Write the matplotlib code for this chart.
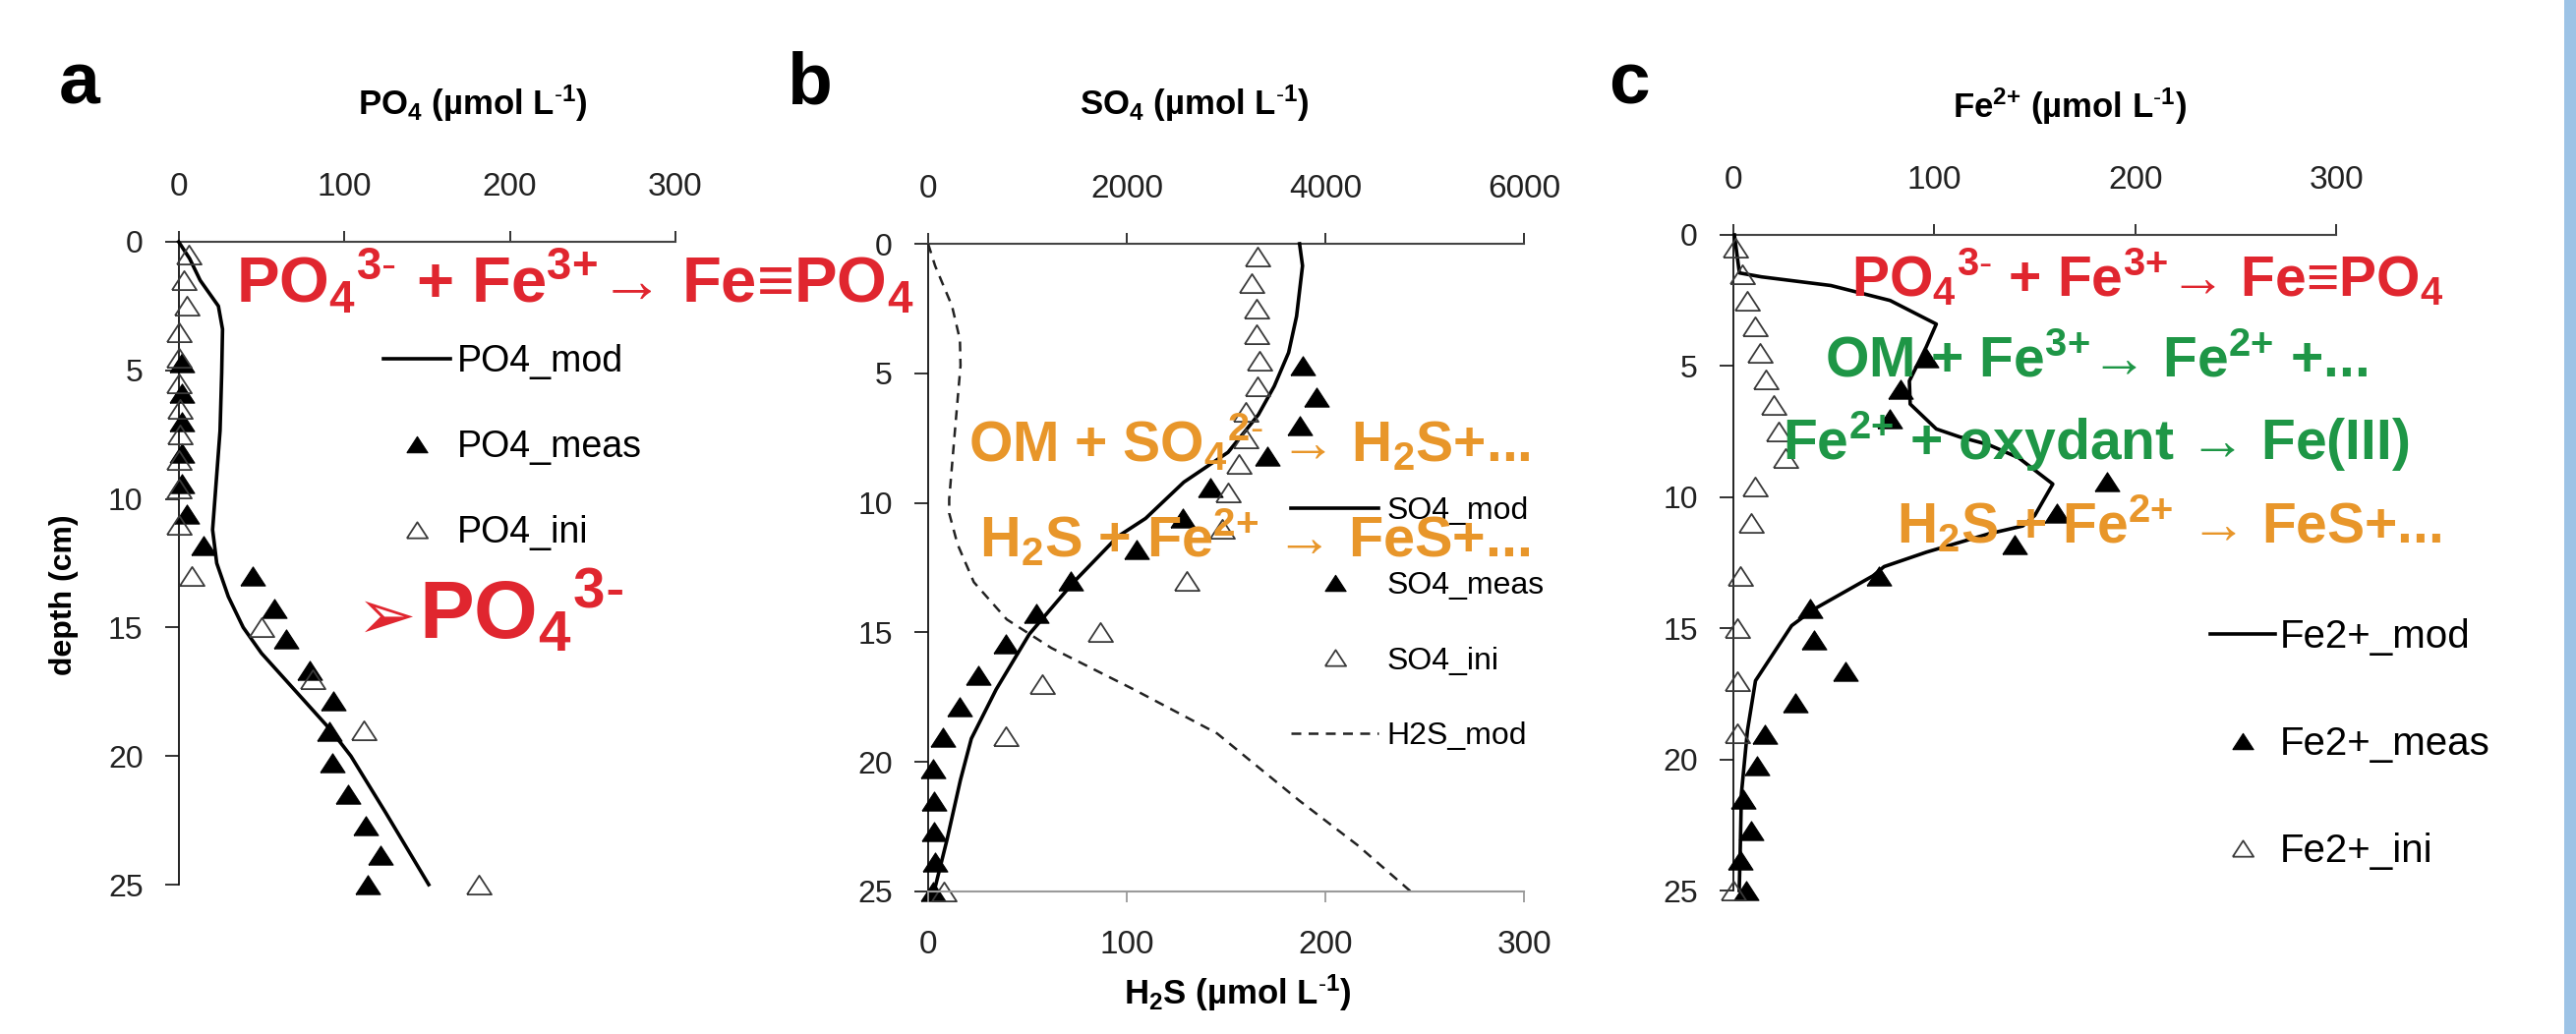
import matplotlib
matplotlib.use("Agg")
import matplotlib.pyplot as plt
from matplotlib.patches import Rectangle

# ---------------- data ----------------
meas_depth = [4.7, 5.9, 7.0, 8.2, 9.4, 10.6, 11.8, 13.0, 14.25, 15.45, 16.65,
              17.85, 19.05, 20.25, 21.5, 22.7, 23.85, 25.0]
ini_depth = [0.5, 1.5, 2.5, 3.5, 4.5, 5.5, 6.5, 7.5, 8.5, 9.6, 11.0, 13.0,
             15.0, 17.0, 19.0, 25.0]

# panel a : PO4
po4_mod_depth = [0, 0.65, 1.5, 2.5, 3.4, 5.1, 7.35, 11.2, 12.5, 13.8, 15.0,
                 16.0, 17.0, 18.0, 19.0, 20.0, 22.2, 25.0]
po4_mod = [0, 6.6, 13, 24, 26.5, 26, 25, 20.5, 23, 30, 39, 50, 64, 78, 92,
           104, 125, 151]
po4_meas = [2, 2, 2, 2, 2, 5, 15, 45, 58, 65, 79, 93.5, 91, 93, 102, 113,
            122, 114]
po4_ini = [6, 3, 5, 0, 0, 0, 1, 1, 0, 0, 0, 8, 50, 81, 112, 181]

# panel b : SO4 / H2S
so4_mod_depth = [0, 0.85, 2.8, 4.2, 5.5, 6.6, 8.05, 9.2, 10.6, 11.3, 13.06,
                 15.06, 17.2, 19.1, 20.7, 23.0, 25.0]
so4_mod = [3740, 3770, 3710, 3630, 3485, 3325, 3020, 2575, 2190, 1910, 1465,
           1020, 685, 435, 325, 190, 60]
so4_meas = [3772, 3911, 3743, 3416, 2842, 2564, 2099, 1436, 1089, 782, 505,
            317, 149, 50, 59, 59, 69, 50]
so4_ini = [3320, 3255, 3305, 3305, 3335, 3320, 3195, 3195, 3130, 3020, 2960,
           2600, 1730, 1150, 785, 160]
h2s_mod_depth = [0, 0.85, 2.4, 3.7, 4.7, 7.3, 9.85, 10.4, 11.6, 13.06, 14.5,
                 15.6, 17.2, 18.9, 19.75, 21.5, 23.2, 25.0]
h2s_mod = [0, 3.5, 12, 16, 16.3, 13.4, 10.6, 10.6, 14.8, 23, 39.6, 62, 103.5,
           145.5, 159, 187, 216, 243]

# panel c : Fe2+
fe_mod_depth = [0, 1.45, 1.6, 1.93, 2.5, 3.4, 4.27, 5.57, 6.45, 7.4, 7.7, 8.0,
                8.5, 9.5, 10.7, 11.1, 11.4, 12.1, 12.65, 13.0, 14.3, 14.9,
                17.0, 18.9, 21.3, 23.5, 25.0]
fe_mod = [0.5, 3, 14, 48.5, 78, 101, 96, 87.6, 88, 101, 112.5, 127, 142, 159,
          150, 144, 127, 96, 75, 69.5, 39.5, 29, 11, 7, 4, 3.4, 2.9]
fe_meas_depth = [4.7, 5.9, 7.0, 9.4, 10.6, 11.8, 13.0, 14.25, 15.45, 16.65,
                 17.85, 19.05, 20.25, 21.5, 22.7, 23.85, 25.0]
fe_meas = [96, 83, 78, 186, 161, 140, 72.5, 38, 40, 56, 31, 15.6, 11.7, 5,
           8.6, 3.4, 6.4]
fe_ini = [1, 4.4, 7, 11, 13.2, 16, 20, 22.5, 26, 11, 8.8, 3.4, 2, 2, 2, 0]

depth_ticks = [0, 5, 10, 15, 20, 25]
conc_ticks = [0, 100, 200, 300]
so4_ticks = [0, 2000, 4000, 6000]

# ---------------- style ----------------
W, H, DPI = 2620, 1052, 100
plt.rcParams['font.family'] = ['Liberation Sans', 'DejaVu Sans']
plt.rcParams['mathtext.fontset'] = 'custom'
plt.rcParams['mathtext.rm'] = 'Liberation Sans'
plt.rcParams['mathtext.bf'] = 'Liberation Sans:bold'
plt.rcParams['mathtext.it'] = 'Liberation Sans:italic'

RED = '#E0262F'
GREEN = '#1E9646'
ORANGE = '#E8962A'
TRI = [(-1.3, -1), (1.3, -1), (0, 1), (-1.3, -1)]
MS = 18
LW = 2.6

fig = plt.figure(figsize=(W / DPI, H / DPI), dpi=DPI)
fig.patch.set_facecolor('white')


def add_ax(x0, x1, y0, y1):
    return fig.add_axes([x0 / W, 1 - y1 / H, (x1 - x0) / W, (y1 - y0) / H])


def ftext(x, y, s, **kw):
    return fig.text(x / W, 1 - y / H, s, **kw)


def style(ax, xmax, xticks, xls=24):
    ax.set_ylim(25, 0)
    ax.set_xlim(0, xmax)
    ax.set_xticks(xticks)
    ax.set_yticks(depth_ticks)
    ax.xaxis.tick_top()
    for s in ('right', 'bottom'):
        ax.spines[s].set_visible(False)
    ax.spines['top'].set_color('#444444')
    ax.spines['left'].set_color('#111111')
    ax.spines['top'].set_linewidth(1.5)
    ax.spines['left'].set_linewidth(1.3)
    ax.tick_params(axis='x', which='both', direction='out', length=8,
                   width=1.3, pad=21, labelsize=xls, colors='#222222',
                   top=True, bottom=False, labeltop=True, labelbottom=False)
    ax.tick_params(axis='y', direction='out', length=10, width=1.3, pad=16,
                   labelsize=23, colors='#222222')
    ax.patch.set_alpha(0)


def plot_panel(ax, mod_d, mod_v, meas_d, meas_v, ini_d, ini_v):
    l, = ax.plot(mod_v, mod_d, color='black', lw=LW, solid_joinstyle='round',
                 clip_on=False, zorder=3)
    m, = ax.plot(meas_v, meas_d, linestyle='none', marker=TRI, ms=MS,
                 mfc='black', mec='black', mew=0.8, clip_on=False, zorder=4)
    i, = ax.plot(ini_v, ini_d, linestyle='none', marker=TRI, ms=MS,
                 mfc='none', mec='#3a3a3a', mew=1.3, clip_on=False, zorder=4)
    return l, m, i


def legend(ax, handles, labels, x, y, fs, hl, htp, ls):
    ax.legend(handles, labels, loc='upper left', bbox_to_anchor=(x / W, 1 - y / H),
              bbox_transform=fig.transFigure, frameon=False, fontsize=fs,
              handlelength=hl, handletextpad=htp, labelspacing=ls,
              borderpad=0, borderaxespad=0, numpoints=1, markerscale=0.85)


# ---------------- panel a ----------------
axa = add_ax(181.7, 687, 246, 900)
style(axa, 300, conc_ticks)
ha = plot_panel(axa, po4_mod_depth, po4_mod, meas_depth, po4_meas,
                ini_depth, po4_ini)
legend(axa, ha, ['PO4_mod', 'PO4_meas', 'PO4_ini'], 390, 350, 27, 1.8, 0.2, 1.36)

# ---------------- panel b ----------------
axb = add_ax(944, 1550, 248, 907)
axb2 = axb.twiny()
style(axb, 6000, so4_ticks)
hb = plot_panel(axb, so4_mod_depth, so4_mod, meas_depth, so4_meas,
                ini_depth, so4_ini)
axb2.set_ylim(25, 0)
axb2.set_xlim(0, 300)
axb2.set_xticks(conc_ticks)
axb2.xaxis.set_ticks_position('bottom')
axb2.xaxis.set_label_position('bottom')
for s in ('top', 'right', 'left'):
    axb2.spines[s].set_visible(False)
axb2.spines['bottom'].set_color('#9a9a9a')
axb2.spines['bottom'].set_linewidth(1.5)
axb2.tick_params(axis='x', direction='out', length=8, width=1.3, pad=20,
                 labelsize=24, colors='#9a9a9a', labelcolor='#222222',
                 top=False, bottom=True, labeltop=False, labelbottom=True)
hs, = axb2.plot(h2s_mod, h2s_mod_depth, color='#222222', lw=1.8,
                linestyle=(0, (4, 3)), clip_on=False)
legend(axb2, [hb[0], hb[1], hb[2], hs], ['SO4_mod', 'SO4_meas', 'SO4_ini', 'H2S_mod'],
       1313, 505, 23, 2.8, 0.25, 1.45)

# ---------------- panel c ----------------
axc = add_ax(1763, 2376, 239, 906)
style(axc, 300, conc_ticks)
hc = plot_panel(axc, fe_mod_depth, fe_mod, fe_meas_depth, fe_meas,
                ini_depth, fe_ini)
legend(axc, hc, ['Fe2+_mod', 'Fe2+_meas', 'Fe2+_ini'], 2248, 629, 29, 1.65, 0.1, 1.76)

# ---------------- labels ----------------
for lab, x in (('a', 60), ('b', 800), ('c', 1636)):
    ftext(x, 105, lab, fontsize=54, fontweight='bold', ha='left', va='baseline')

SUPM1 = r"$^{\mathbf{\text{-}1}}$"
ftext(481, 105, r"$\mathbf{PO_4}$ (µmol L" + SUPM1 + ")", fontsize=25,
      fontweight='bold', ha='center', va='center')
ftext(1215, 105, r"$\mathbf{SO_4}$ (µmol L" + SUPM1 + ")", fontsize=25,
      fontweight='bold', ha='center', va='center')
ftext(2105, 108, r"Fe$^{\mathbf{2{+}}}$ (µmol L" + SUPM1 + ")", fontsize=25,
      fontweight='bold', ha='center', va='center')
ftext(1259, 1010, r"$\mathbf{H_2}$S (µmol L" + SUPM1 + ")", fontsize=25,
      fontweight='bold', ha='center', va='center')
ftext(65, 605, 'depth (cm)', fontsize=23, fontweight='bold', rotation=90,
      ha='center', va='center')

# ---------------- reaction annotations ----------------
PO43 = r"$\mathbf{PO_4{}^{3\text{-}}}$"
FE3 = r"Fe$^{\mathbf{3{+}}}$"
FE2 = r"Fe$^{\mathbf{2{+}}}$"
H2 = r"$\mathbf{H_2}$"
ann = dict(fontweight='bold', ha='left', va='baseline', zorder=10)
ftext(240, 309, PO43 + " + " + FE3 + "→ Fe≡" + r"$\mathbf{PO_4}$",
      fontsize=47, color=RED, **ann)
ftext(363, 650, "➢", fontsize=52, color=RED, family=['DejaVu Sans'],
      ha='left', va='baseline', zorder=10)
ftext(426, 650, PO43, fontsize=60, color=RED, **ann)

ftext(985, 470, "OM + " + r"$\mathbf{SO_4{}^{2\text{-}}}$" + " → " + H2 + "S+...",
      fontsize=41, color=ORANGE, **ann)
ftext(996, 567, H2 + "S + " + FE2 + " → FeS+...",
      fontsize=41.5, color=ORANGE, **ann)

ftext(1883, 302, PO43 + " + " + FE3 + "→ Fe≡" + r"$\mathbf{PO_4}$",
      fontsize=41, color=RED, **ann)
ftext(1856, 384, "OM + " + FE3 + "→ " + FE2 + " +...",
      fontsize=41, color=GREEN, **ann)
ftext(1813, 468, FE2 + " + oxydant → Fe(III)",
      fontsize=41, color=GREEN, **ann)
ftext(1929, 553, H2 + "S + " + FE2 + " → FeS+...",
      fontsize=41, color=ORANGE, **ann)

# blue strip at right edge
fig.patches.append(Rectangle((2608 / W, 0), 12 / W, 1, transform=fig.transFigure,
                             facecolor='#9DC3E6', edgecolor='none', zorder=0))

fig.savefig('out.png', dpi=DPI, facecolor='white')
